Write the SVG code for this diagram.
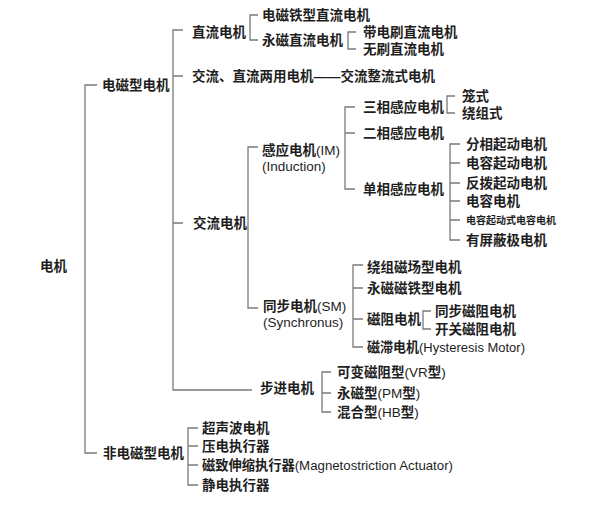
<svg xmlns="http://www.w3.org/2000/svg" width="600" height="506" viewBox="0 0 600 506">
<style>
text{font-family:"Liberation Sans","Noto Sans CJK SC",sans-serif;font-size:13.5px;fill:#1e1e1e;font-weight:bold}
.s{font-size:10px}
.l{font-weight:normal}
.c path{fill:none;stroke:#7a7a7a;stroke-width:1.3}
</style>
<rect width="600" height="506" fill="#fff"/>
<g class="c" id="connectors">
<path d="M97 85H85V453H97"/>
<path d="M183 30H173V390H252M173 76H183M173 223H183"/>
<path d="M258 15H250V40H258"/>
<path d="M356 32H348V49H356"/>
<path d="M258 147H248V308H258"/>
<path d="M355 107H345V189H355M345 133H355"/>
<path d="M455 96H447V113H455"/>
<path d="M460 144H450V240H460M450 163H460M450 183H460M450 201H460M450 220H460"/>
<path d="M363 265H353V347H363M353 288H363M353 319H363"/>
<path d="M431 311H423V329H431"/>
<path d="M331 372H322V412H331M322 393H331"/>
<path d="M198 428H188V485H198M188 446H198M188 465H198"/>
</g>
<g id="root"><text x="40" y="271">电机</text></g>
<g id="em"><text x="102" y="90">电磁型电机</text></g>
<g id="dc"><text x="192" y="37">直流电机</text></g>
<g id="dc1"><text x="262" y="20">电磁铁型直流电机</text></g>
<g id="dc2"><text x="262" y="45">永磁直流电机</text></g>
<g id="dc2a"><text x="363" y="37">带电刷直流电机</text></g>
<g id="dc2b"><text x="363" y="54">无刷直流电机</text></g>
<g id="acdc"><text x="192" y="81">交流、直流两用电机——交流整流式电机</text></g>
<g id="ac"><text x="193" y="228">交流电机</text></g>
<g id="im"><text x="262" y="155">感应电机<tspan class="l">(IM)</tspan></text><text x="262" y="171" class="l">(Induction)</text></g>
<g id="im3"><text x="363" y="112">三相感应电机</text></g>
<g id="im3a"><text x="462" y="101">笼式</text></g>
<g id="im3b"><text x="462" y="118">绕组式</text></g>
<g id="im2"><text x="363" y="138">二相感应电机</text></g>
<g id="im1"><text x="363" y="194">单相感应电机</text></g>
<g id="im1a"><text x="466" y="149">分相起动电机</text></g>
<g id="im1b"><text x="466" y="168">电容起动电机</text></g>
<g id="im1c"><text x="466" y="188">反拨起动电机</text></g>
<g id="im1d"><text x="466" y="206">电容电机</text></g>
<g id="im1e"><text x="466" y="224" class="s">电容起动式电容电机</text></g>
<g id="im1f"><text x="466" y="245">有屏蔽极电机</text></g>
<g id="sm"><text x="263" y="311">同步电机<tspan class="l">(SM)</tspan></text><text x="263" y="327" class="l">(Synchronus)</text></g>
<g id="sm1"><text x="367" y="272">绕组磁场型电机</text></g>
<g id="sm2"><text x="367" y="293">永磁磁铁型电机</text></g>
<g id="sm3"><text x="367" y="324">磁阻电机</text></g>
<g id="sm3a"><text x="435" y="316">同步磁阻电机</text></g>
<g id="sm3b"><text x="435" y="334">开关磁阻电机</text></g>
<g id="sm4"><text x="367" y="352" textLength="158" lengthAdjust="spacingAndGlyphs">磁滞电机<tspan class="l">(Hysteresis Motor)</tspan></text></g>
<g id="step"><text x="260" y="393">步进电机</text></g>
<g id="step1"><text x="337" y="377">可变磁阻型<tspan class="l">(VR</tspan>型<tspan class="l">)</tspan></text></g>
<g id="step2"><text x="337" y="398">永磁型<tspan class="l">(PM</tspan>型<tspan class="l">)</tspan></text></g>
<g id="step3"><text x="337" y="417">混合型<tspan class="l">(HB</tspan>型<tspan class="l">)</tspan></text></g>
<g id="nem"><text x="103" y="458">非电磁型电机</text></g>
<g id="nem1"><text x="202" y="433">超声波电机</text></g>
<g id="nem2"><text x="202" y="451">压电执行器</text></g>
<g id="nem3"><text x="202" y="470" textLength="251" lengthAdjust="spacingAndGlyphs">磁致伸缩执行器<tspan class="l">(Magnetostriction Actuator)</tspan></text></g>
<g id="nem4"><text x="202" y="490">静电执行器</text></g>
</svg>
